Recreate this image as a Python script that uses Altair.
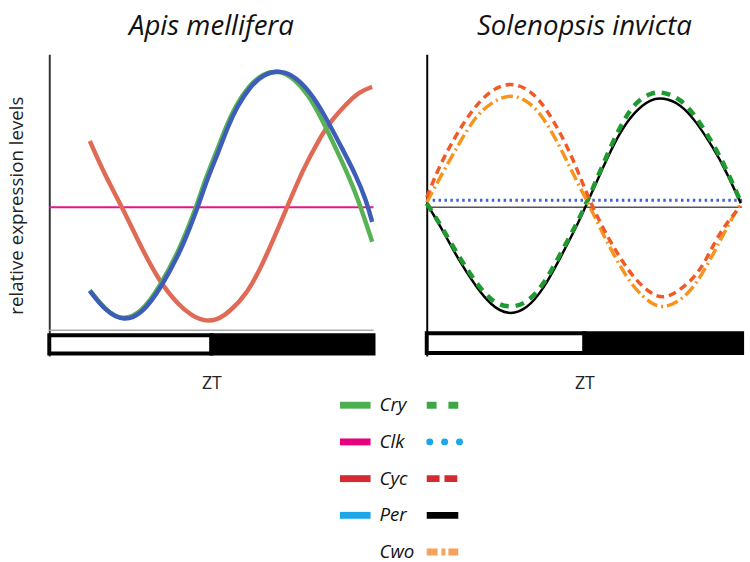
import altair as alt
import pandas as pd

# ---------------- data (ZT hours, relative level) ----------------
# Apis mellifera
apis_per_zt = [3.0, 4.2, 5.5, 6.9, 8.3, 9.6, 10.4, 11.0, 11.7, 12.5, 13.2, 13.9, 14.9, 15.9, 17.1, 18.3, 19.6, 20.7, 21.7, 22.7, 23.4, 23.9]
apis_per_lv = [14.3, 6.8, 3.2, 6.0, 15.7, 27.5, 37.1, 44.6, 55.0, 64.3, 73.6, 81.1, 88.6, 92.9, 94.3, 91.8, 84.6, 75.0, 65.7, 56.1, 47.9, 39.3]
apis_cry_zt = [3.0, 4.2, 5.4, 6.8, 8.2, 9.5, 10.3, 10.9, 11.6, 12.4, 13.1, 13.8, 14.8, 15.8, 17.0, 18.1, 19.4, 20.5, 21.5, 22.5, 23.2, 23.9]
apis_cry_lv = [14.5, 7.0, 3.5, 6.2, 16.0, 28.0, 37.5, 45.0, 55.5, 65.0, 74.0, 81.5, 88.8, 93.0, 94.3, 91.5, 84.0, 73.2, 63.0, 52.0, 42.5, 32.1]
apis_cyc_zt = [3.0, 4.2, 5.4, 6.6, 8.1, 9.6, 10.5, 11.5, 12.4, 13.2, 14.7, 15.9, 17.6, 18.8, 20.0, 20.7, 22.0, 22.9, 23.9]
apis_cyc_lv = [68.6, 55.4, 44.6, 32.1, 17.9, 9.0, 5.5, 3.2, 3.8, 6.0, 13.5, 25.0, 44.6, 58.6, 69.3, 75.0, 82.1, 86.4, 88.2]
apis_clk_zt = [0, 24]
apis_clk_lv = [44.6, 44.6]

# Solenopsis invicta
sol_zt = [0, 1.2, 2.4, 3.7, 4.9, 6.2, 7.6, 8.9, 10.1, 11.4, 12.2, 13.4, 14.6, 15.8, 17.1, 18.0, 19.3, 20.5, 21.8, 22.7, 23.9]
sol_per_lv = [46.0, 36.4, 25.7, 16.1, 8.9, 5.4, 7.5, 15.0, 25.7, 37.5, 46.0, 58.9, 71.1, 79.3, 84.0, 84.3, 82.1, 75.7, 66.1, 58.5, 46.0]
sol_cry_lv = [46.0, 37.0, 27.0, 17.5, 10.5, 8.0, 9.6, 16.5, 27.0, 38.5, 46.5, 60.0, 73.0, 82.5, 86.2, 86.4, 84.0, 77.5, 67.5, 59.5, 46.5]
sol_cyc_zt = [0, 1.0, 2.2, 3.4, 4.7, 6.3, 7.9, 9.1, 10.4, 11.4, 12.3, 13.4, 14.6, 15.8, 17.1, 18.1, 19.3, 20.8, 22.0, 23.0, 23.9]
sol_cyc_lv = [48.2, 60.0, 70.5, 79.5, 86.5, 90.2, 87.1, 80.4, 69.6, 58.9, 48.0, 37.0, 27.0, 18.6, 13.0, 11.4, 14.5, 21.0, 32.9, 40.0, 45.0]
sol_cwo_zt = [0, 1.2, 2.5, 3.7, 4.9, 6.2, 7.5, 8.7, 10.0, 11.2, 12.3, 13.4, 14.6, 15.8, 17.1, 18.0, 19.3, 20.5, 21.8, 22.8, 23.9]
sol_cwo_lv = [46.4, 57.0, 68.0, 77.5, 82.5, 85.5, 83.9, 78.5, 68.0, 56.0, 46.0, 35.0, 24.0, 15.0, 9.5, 8.0, 10.5, 16.5, 27.5, 37.0, 46.0]
sol_clk_zt = [0, 24]
sol_clk_lv = [47.1, 47.1]
sol_mid_lv = [44.6]

# light / dark cycle
ld_start = [0, 12]
ld_end = [12, 24]
ld_phase = ["light", "dark"]

# legend
leg_genes = ["Cry", "Clk", "Cyc", "Per", "Cwo"]
apis_leg_genes = ["Cry", "Clk", "Cyc", "Per"]

# ---------------- layout / style ----------------
FONT = "Open Sans"
W_L, W_R, H = 329, 320, 306
Y_DOM = [-9.3, 100]
xs = alt.Scale(domain=[0, 24], nice=False, zero=False)
ys = alt.Scale(domain=Y_DOM, nice=False, zero=False)

x_axis = alt.Axis(title="ZT", labels=False, ticks=False, domain=False, grid=False,
                  titleFont=FONT, titleFontSize=18, titleFontWeight="normal",
                  titleColor="#222", titlePadding=19)
y_axis_l = alt.Axis(title="relative expression levels", labels=False, ticks=False, grid=False,
                    domainColor="#333", domainWidth=2,
                    titleFont=FONT, titleFontSize=19, titleFontWeight="normal",
                    titleColor="#222", titlePadding=23)
y_axis_r = alt.Axis(title="", labels=False, ticks=False, grid=False,
                    domainColor="black", domainWidth=2)


def line(zt, lv, color, width, y_axis, dash=None, interp="basis"):
    df = pd.DataFrame({"zt": zt, "level": lv})
    kw = dict(color=color, strokeWidth=width, interpolate=interp)
    if dash is not None:
        kw["strokeDash"] = dash
    return alt.Chart(df).mark_line(**kw).encode(
        x=alt.X("zt:Q", scale=xs, axis=x_axis),
        y=alt.Y("level:Q", scale=ys, axis=y_axis),
    )


def ld_bar(y_top, y_bot):
    df = pd.DataFrame({"start": ld_start, "end": ld_end, "phase": ld_phase})
    return alt.Chart(df).mark_rect(stroke="black", strokeWidth=4).encode(
        x=alt.X("start:Q", scale=xs, axis=x_axis),
        x2="end:Q",
        y=alt.value(y_top),
        y2=alt.value(y_bot),
        fill=alt.Fill("phase:N", scale=alt.Scale(domain=["light", "dark"], range=["white", "black"]), legend=None),
    )


def hrule(level, color, width, y_axis):
    return alt.Chart(pd.DataFrame({"level": level})).mark_rule(color=color, strokeWidth=width).encode(
        y=alt.Y("level:Q", scale=ys, axis=y_axis))


def title(text):
    return alt.TitleParams(text, font=FONT, fontSize=28, fontStyle="italic", fontWeight="normal",
                           color="#111", anchor="middle", offset=14)


left = alt.layer(
    hrule([0], "#aaaaaa", 1.5, y_axis_l),
    ld_bar(285, 303.5),
    line(apis_clk_zt, apis_clk_lv, "#e8158a", 2, y_axis_l, interp="linear"),
    line(apis_cyc_zt, apis_cyc_lv, "#df6a55", 4.5, y_axis_l),
    line(apis_cry_zt, apis_cry_lv, "#57b155", 4.5, y_axis_l),
    line(apis_per_zt, apis_per_lv, "#3e5db8", 4.5, y_axis_l),
).properties(width=W_L, height=H, title=title("Apis mellifera"))

right = alt.layer(
    hrule(sol_mid_lv, "#555555", 1.5, y_axis_r),
    ld_bar(283, 303),
    line(sol_clk_zt, sol_clk_lv, "#3a62da", 3, y_axis_r, dash=[2.5, 3.5], interp="linear"),
    line(sol_zt, sol_per_lv, "black", 2.5, y_axis_r),
    line(sol_zt, sol_cry_lv, "#1f9a30", 4.5, y_axis_r, dash=[9, 7]),
    line(sol_cwo_zt, sol_cwo_lv, "#f7941d", 3.5, y_axis_r, dash=[12, 4, 2, 4]),
    line(sol_cyc_zt, sol_cyc_lv, "#f15a24", 3.5, y_axis_r, dash=[8, 5]),
).properties(width=W_R, height=H, title=title("Solenopsis invicta"))

# ---------------- custom legend ----------------
LX = -47  # legend origin offset (legend origin sits near the left plot's x)
leg_df = pd.DataFrame({"gene": leg_genes})
ly = alt.Scale(type="point", domain=leg_genes, range=[11, 160], padding=0)
Y = alt.Y("gene:N", scale=ly, axis=None)

sw_left = alt.Chart(pd.DataFrame({"gene": apis_leg_genes})).mark_rule(strokeWidth=7).encode(
    y=Y, x=alt.value(342 + LX), x2=alt.value(373 + LX),
    color=alt.Color("gene:N", scale=alt.Scale(domain=apis_leg_genes,
                    range=["#4caf50", "#e6007e", "#d52b30", "#1ea7e8"]), legend=None))

labels = alt.Chart(leg_df).mark_text(align="left", baseline="middle", font=FONT, fontSize=19,
                                     fontStyle="italic", color="#111").encode(
    y=Y, x=alt.value(382 + LX), text="gene:N")


def sw_right(gene, color, dash=None, cap="butt", x0=430, x1=462):
    kw = dict(color=color, strokeWidth=7, strokeCap=cap)
    if dash is not None:
        kw["strokeDash"] = dash
    return alt.Chart(leg_df).transform_filter(alt.datum.gene == gene).mark_rule(**kw).encode(
        y=Y, x=alt.value(x0 + LX), x2=alt.value(x1 + LX))


legend = alt.layer(
    sw_left, labels,
    sw_right("Cry", "#3fa648", [10, 12]),
    sw_right("Clk", "#1ea7e8", [0.1, 15], cap="round", x0=433, x1=464),
    sw_right("Cyc", "#d52b30", [13, 5]),
    sw_right("Per", "black"),
    sw_right("Cwo", "#f7a25a", [11, 4, 4, 3, 11, 40]),
).properties(width=440, height=162)

chart = alt.vconcat(
    alt.hconcat(left, right, spacing=37),
    legend,
    spacing=2,
).properties(
    padding={"left": 8, "top": 9, "right": 0, "bottom": 0}
).configure_view(stroke=None)

chart.save("out.html", embed_options={"renderer": "svg", "actions": False})
